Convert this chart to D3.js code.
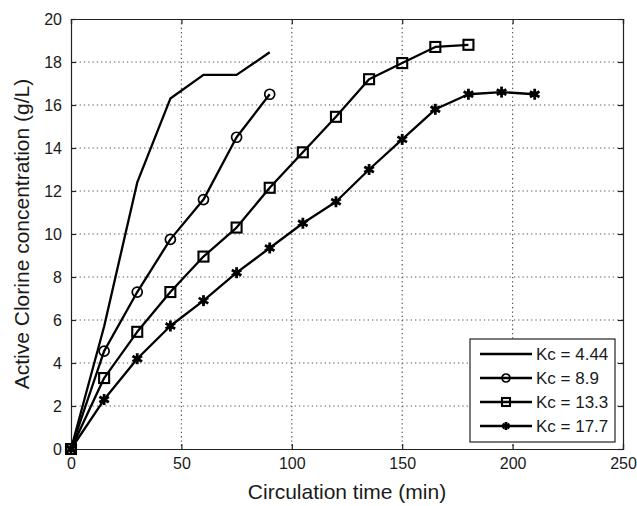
<!DOCTYPE html>
<html>
<head>
<meta charset="utf-8">
<script src="https://d3js.org/d3.v7.min.js"></script>
<style>
  body { margin: 0; background: #fff; }
  svg { display: block; }
  text { font-family: "Liberation Sans", Arial, sans-serif; fill: #1a1a1a; }
</style>
</head>
<body>
<div id="chart"></div>
<script>
// Data
const labels = ["Kc = 4.44", "Kc = 8.9", "Kc = 13.3", "Kc = 17.7"];
const markers = ["none", "circle", "square", "star"];

const timeA = [0, 15, 30, 45, 60, 75, 90];
const concA = [0, 5.7, 12.4, 16.3, 17.4, 17.4, 18.45];

const timeB = [0, 15, 30, 45, 60, 75, 90];
const concB = [0, 4.55, 7.3, 9.75, 11.6, 14.5, 16.5];

const timeC = [0, 15, 30, 45, 60, 75, 90, 105, 120, 135, 150, 165, 180];
const concC = [0, 3.3, 5.45, 7.3, 8.95, 10.3, 12.15, 13.8, 15.45, 17.2, 17.95, 18.7, 18.8];

const timeD = [0, 15, 30, 45, 60, 75, 90, 105, 120, 135, 150, 165, 180, 195, 210];
const concD = [0, 2.3, 4.2, 5.72, 6.9, 8.2, 9.35, 10.5, 11.5, 13.0, 14.4, 15.8, 16.5, 16.6, 16.5];

const xTicks = [0, 50, 100, 150, 200, 250];
const yTicks = [0, 2, 4, 6, 8, 10, 12, 14, 16, 18, 20];

const series = [
  { name: labels[0], marker: markers[0], x: timeA, y: concA },
  { name: labels[1], marker: markers[1], x: timeB, y: concB },
  { name: labels[2], marker: markers[2], x: timeC, y: concC },
  { name: labels[3], marker: markers[3], x: timeD, y: concD }
];

const width = 637, height = 506;
const margin = { left: 71, top: 19, right: 14, bottom: 57 };
const iw = width - margin.left - margin.right;
const ih = height - margin.top - margin.bottom;

const svg = d3.select('#chart').append('svg')
  .attr('width', width).attr('height', height);

const g = svg.append('g').attr('transform', `translate(${margin.left},${margin.top})`);

const x = d3.scaleLinear().domain([0, 250]).range([0, iw]);
const y = d3.scaleLinear().domain([0, 20]).range([ih, 0]);

// dotted grid
g.append('g').selectAll('line').data(xTicks.slice(1, -1)).join('line')
  .attr('x1', d => x(d)).attr('x2', d => x(d))
  .attr('y1', 0).attr('y2', ih)
  .attr('stroke', '#555').attr('stroke-width', 1.2).attr('stroke-dasharray', '1.3,3');
g.append('g').selectAll('line').data(yTicks.slice(1, -1)).join('line')
  .attr('y1', d => y(d)).attr('y2', d => y(d))
  .attr('x1', 0).attr('x2', iw)
  .attr('stroke', '#555').attr('stroke-width', 1.2).attr('stroke-dasharray', '1.3,3');

// axes with inward ticks (matlab style box)
const axB = g.append('g').attr('transform', `translate(0,${ih})`)
  .call(d3.axisBottom(x).tickValues(xTicks).tickSize(-5).tickPadding(9));
const axT = g.append('g')
  .call(d3.axisTop(x).tickValues(xTicks).tickSize(-5).tickFormat(''));
const axL = g.append('g')
  .call(d3.axisLeft(y).tickValues(yTicks).tickSize(-5).tickPadding(9));
const axR = g.append('g').attr('transform', `translate(${iw},0)`)
  .call(d3.axisRight(y).tickValues(yTicks).tickSize(-5).tickFormat(''));

[axB, axT, axL, axR].forEach(a => {
  a.select('.domain').attr('stroke', '#222').attr('stroke-width', 1.2);
  a.selectAll('.tick line').attr('stroke', '#222').attr('stroke-width', 1.2);
  a.selectAll('.tick text').style('font-size', '16px').attr('fill', '#222')
    .style('font-family', '"Liberation Sans", Arial, sans-serif');
});

// lines
const line = d3.line().x(d => x(d[0])).y(d => y(d[1]));

function drawMarker(sel, type, size) {
  if (type === 'circle') {
    sel.append('circle').attr('r', size / 2)
      .attr('fill', 'none').attr('stroke', '#000').attr('stroke-width', 1.7);
  } else if (type === 'square') {
    sel.append('rect').attr('x', -size / 2).attr('y', -size / 2)
      .attr('width', size).attr('height', size)
      .attr('fill', 'none').attr('stroke', '#000').attr('stroke-width', 2.1);
  } else if (type === 'star') {
    const r = size / 2;
    for (let k = 0; k < 3; k++) {
      const a = Math.PI / 2 + k * Math.PI / 3;
      sel.append('line')
        .attr('x1', -r * Math.cos(a)).attr('y1', -r * Math.sin(a))
        .attr('x2', r * Math.cos(a)).attr('y2', r * Math.sin(a))
        .attr('stroke', '#000').attr('stroke-width', 2.8);
    }
    sel.append('circle').attr('r', r * 0.55).attr('fill', '#000');
  }
}

series.forEach(s => {
  const pts = s.x.map((t, i) => [t, s.y[i]]);
  g.append('path').datum(pts)
    .attr('d', line)
    .attr('fill', 'none').attr('stroke', '#000')
    .attr('stroke-width', 2.3).attr('stroke-linejoin', 'round');
  if (s.marker !== 'none') {
    g.append('g').selectAll('g').data(pts).join('g')
      .attr('transform', d => `translate(${x(d[0])},${y(d[1])})`)
      .each(function() { drawMarker(d3.select(this), s.marker, s.marker === 'star' ? 11 : 10); });
  }
});

// axis titles
svg.append('text')
  .attr('x', margin.left + iw / 2).attr('y', 499)
  .attr('text-anchor', 'middle').style('font-size', '21px')
  .text('Circulation time (min)');
svg.append('text')
  .attr('transform', `translate(29,${margin.top + ih / 2}) rotate(-90)`)
  .attr('text-anchor', 'middle').style('font-size', '21px')
  .text('Active Clorine concentration (g/L)');

// legend
const lg = svg.append('g').attr('transform', 'translate(470,339)');
lg.append('rect').attr('width', 145).attr('height', 103)
  .attr('fill', '#fff').attr('stroke', '#222').attr('stroke-width', 1.2);
series.forEach((s, i) => {
  const row = lg.append('g').attr('transform', `translate(0,${15 + i * 24})`);
  row.append('line').attr('x1', 10).attr('x2', 62)
    .attr('stroke', '#000').attr('stroke-width', 2.3);
  if (s.marker !== 'none') {
    const m = row.append('g').attr('transform', 'translate(36,0)');
    drawMarker(m, s.marker, 8);
  }
  row.append('text').attr('x', 66).attr('y', 6)
    .style('font-size', '17px').text(s.name);
});
</script>
</body>
</html>
